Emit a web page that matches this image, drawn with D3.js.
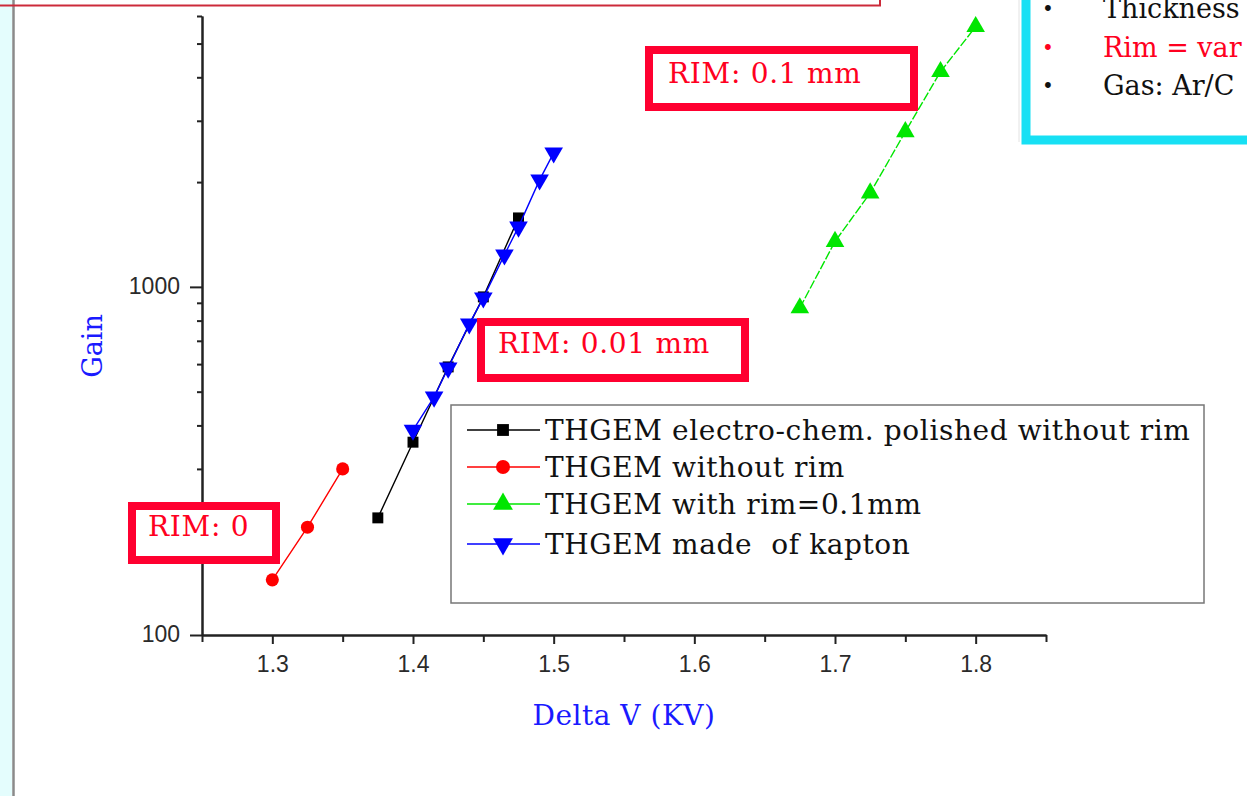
<!DOCTYPE html>
<html>
<head>
<meta charset="utf-8">
<script src="https://cdn.jsdelivr.net/npm/d3@7"></script>
<style>
  body { margin: 0; background: #fff; }
  svg { display: block; }
</style>
</head>
<body>
<svg id="plot" width="1247" height="796"></svg>
<script>
// Gain vs Delta V for several THGEM types

// series data
let polishedV    = [1.375, 1.4, 1.425, 1.45, 1.475];
let polishedGain = [217, 358, 589, 936, 1578];

let noRimV    = [1.3, 1.325, 1.35];
let noRimGain = [144, 204, 300];

let rimV    = [1.675, 1.7, 1.725, 1.75, 1.775, 1.8];
let rimGain = [870, 1350, 1860, 2790, 4150, 5590];

let kaptonV    = [1.4, 1.415, 1.425, 1.44, 1.45, 1.465, 1.475, 1.49, 1.5];
let kaptonGain = [388, 483, 585, 783, 930, 1236, 1487, 2030, 2427];

let seriesNames = ["THGEM electro-chem. polished without rim",
                   "THGEM without rim",
                   "THGEM with rim=0.1mm",
                   "THGEM made  of kapton"];

// ticks
let xMajor = [1.3, 1.4, 1.5, 1.6, 1.7, 1.8];
let xMinor = [1.25, 1.35, 1.45, 1.55, 1.65, 1.75, 1.85];
let yMajor = [100, 1000];
let yMinor = [200, 300, 400, 500, 600, 700, 800, 900, 2000, 3000, 4000, 5000, 6000];

let rimLabels = ["RIM: 0.1 mm", "RIM: 0.01 mm", "RIM: 0"];
// only the visible part of the note box text
let noteLines = ["Thickness", "Rim = var", "Gas: Ar/C"];

let svg = d3.select("#plot");
let serif = "DejaVu Serif";

// setup scales
let xScale = d3.scaleLinear()
  .domain([1.25, 1.85])
  .range([202, 1046]);

let yScale = d3.scaleLog()
  .domain([100, 6000])
  .range([635, 16]);

////////////////////////////////////////////////////////////////
// page decorations around the chart

svg.append("rect")
  .attr("x", 0).attr("y", 0)
  .attr("width", 12).attr("height", 796)
  .attr("fill", "#e4fdfd");
svg.append("line")
  .attr("x1", 13.5).attr("x2", 13.5)
  .attr("y1", 0).attr("y2", 796)
  .attr("stroke", "#8a8a8a").attr("stroke-width", 2.5);

// red frame peeking in at the top
svg.append("rect")
  .attr("x", -10).attr("y", -20)
  .attr("width", 890).attr("height", 25.5)
  .attr("fill", "none")
  .attr("stroke", "#cc2a3a").attr("stroke-width", 2);

svg.append("line")
  .attr("x1", 1019).attr("x2", 1019)
  .attr("y1", 0).attr("y2", 142)
  .attr("stroke", "#e2e2e2");

// cyan note box at top right
svg.append("rect")
  .attr("x", 1026).attr("y", -20)
  .attr("width", 260).attr("height", 160)
  .attr("fill", "#fff")
  .attr("stroke", "#17e0f4").attr("stroke-width", 9);

noteLines.forEach(function(t, i) {
  let y = 18 + i * 38.5;
  let col = i == 1 ? "#ff0020" : "#111";
  svg.append("text")
    .attr("x", 1048).attr("y", y - 2)
    .attr("text-anchor", "middle")
    .attr("font-family", serif).attr("font-size", 20)
    .attr("fill", col).text("•");
  svg.append("text")
    .attr("x", 1103).attr("y", y)
    .attr("font-family", serif).attr("font-size", 27)
    .attr("fill", col).text(t);
});

////////////////////////////////////////////////////////////////
// axes

let font = "Liberation Sans";

let xAxis = svg.append("g")
  .attr("transform", "translate(0,635)")
  .call(d3.axisBottom(xScale).tickValues(xMajor).tickSize(9).tickSizeOuter(0)
        .tickFormat(d3.format(".1f")));
svg.append("g")
  .attr("transform", "translate(0,635)")
  .call(d3.axisBottom(xScale).tickValues(xMinor).tickSize(7).tickSizeOuter(0)
        .tickFormat(""));

let yAxis = svg.append("g")
  .attr("transform", "translate(202,0)")
  .call(d3.axisLeft(yScale).tickValues(yMajor).tickSize(12).tickSizeOuter(0)
        .tickFormat(d3.format("d")));
svg.append("g")
  .attr("transform", "translate(202,0)")
  .call(d3.axisLeft(yScale).tickValues(yMinor).tickSize(5).tickSizeOuter(0)
        .tickFormat(""));

svg.selectAll(".domain, .tick line")
  .attr("stroke", "#222").attr("stroke-width", 2);

xAxis.selectAll("text")
  .attr("font-family", font).attr("font-size", 23)
  .attr("fill", "#2a2a2a").attr("dy", "1.1em");
yAxis.selectAll("text")
  .attr("font-family", font).attr("font-size", 23)
  .attr("fill", "#2a2a2a").attr("x", -22).attr("dy", "0.3em");

svg.append("text")
  .attr("x", 624).attr("y", 725)
  .attr("text-anchor", "middle")
  .attr("font-family", serif).attr("font-size", 28)
  .attr("letter-spacing", 0.5)
  .attr("fill", "#1a1aff")
  .text("Delta V (KV)");

svg.append("text")
  .attr("transform", "translate(102,346) rotate(-90)")
  .attr("text-anchor", "middle")
  .attr("font-family", serif).attr("font-size", 27)
  .attr("fill", "#1a1aff")
  .text("Gain");

////////////////////////////////////////////////////////////////
// series: lines + markers

let series = [
  {v: polishedV, g: polishedGain, color: "#000000", sym: d3.symbolSquare, size: 120, rot: 0, dash: null},
  {v: noRimV,    g: noRimGain,    color: "#ff0000", sym: d3.symbolCircle, size: 135, rot: 0, dash: null},
  {v: rimV,      g: rimGain,      color: "#00e600", sym: d3.symbolTriangle, size: 150, rot: 0, dash: "9,2"},
  {v: kaptonV,   g: kaptonGain,   color: "#0000ff", sym: d3.symbolTriangle, size: 150, rot: 180, dash: null}
];

let line = d3.line()
  .x(p => xScale(p[0]))
  .y(p => yScale(p[1]));

series.forEach(function(s) {
  let pts = s.v.map((x, i) => [x, s.g[i]]);
  svg.append("path")
    .attr("d", line(pts))
    .attr("fill", "none")
    .attr("stroke", s.color)
    .attr("stroke-width", 1.4)
    .attr("stroke-dasharray", s.dash);
  svg.append("g")
    .selectAll("path")
    .data(pts)
    .enter()
    .append("path")
    .attr("d", d3.symbol().type(s.sym).size(s.size))
    .attr("transform", p => "translate(" + xScale(p[0]) + "," + yScale(p[1]) + ") rotate(" + s.rot + ")")
    .attr("fill", s.color);
});

////////////////////////////////////////////////////////////////
// legend

let legend = svg.append("g");
legend.append("rect")
  .attr("x", 451).attr("y", 405)
  .attr("width", 753).attr("height", 198)
  .attr("fill", "#fff")
  .attr("stroke", "#777").attr("stroke-width", 1.5);

let rowY = [430, 467, 504, 544];
series.forEach(function(s, i) {
  legend.append("line")
    .attr("x1", 467).attr("x2", 540)
    .attr("y1", rowY[i]).attr("y2", rowY[i])
    .attr("stroke", s.color).attr("stroke-width", 1.5);
  legend.append("path")
    .attr("d", d3.symbol().type(s.sym).size(s.size + 20))
    .attr("transform", "translate(503," + rowY[i] + ") rotate(" + s.rot + ")")
    .attr("fill", s.color);
  legend.append("text")
    .attr("x", 545).attr("y", rowY[i] + 10)
    .attr("font-family", serif).attr("font-size", 28)
    .attr("letter-spacing", 0.6)
    .attr("fill", "#111")
    .style("white-space", "pre")
    .text(seriesNames[i]);
});

////////////////////////////////////////////////////////////////
// red RIM boxes

let boxes = [
  {x: 645, y: 46,  w: 273, h: 65, tx: 668, ty: 83},
  {x: 477, y: 318, w: 272, h: 64, tx: 498, ty: 353},
  {x: 128, y: 502, w: 152, h: 62, tx: 148, ty: 536}
];

boxes.forEach(function(b, i) {
  svg.append("rect")
    .attr("x", b.x + 4).attr("y", b.y + 4)
    .attr("width", b.w - 8).attr("height", b.h - 8)
    .attr("fill", "#fff")
    .attr("stroke", "#ff0030").attr("stroke-width", 8);
  svg.append("text")
    .attr("x", b.tx).attr("y", b.ty)
    .attr("font-family", serif).attr("font-size", 28)
    .attr("letter-spacing", 0.7)
    .attr("fill", "#ff0020")
    .text(rimLabels[i]);
});
</script>
</body>
</html>
